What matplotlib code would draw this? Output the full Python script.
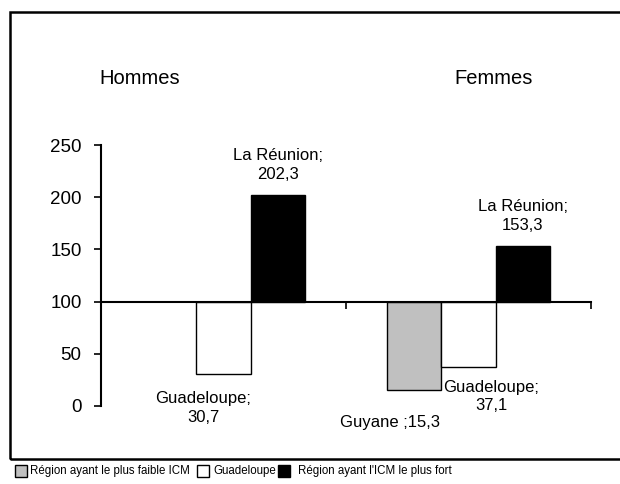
import numpy as np
import matplotlib
matplotlib.use('Agg')
import matplotlib.pyplot as plt
from matplotlib.patches import Rectangle

plt.rcParams['font.family'] = ['Liberation Sans', 'DejaVu Sans']

# données (indice, base 100)
groupes = ['Hommes', 'Femmes']
faible = [np.nan, 15.3]
guadeloupe = [30.7, 37.1]
fort = [202.3, 153.3]
noms_faible = ['', 'Guyane']
noms_fort = ['La Réunion', 'La Réunion']
legende = ['Région ayant le plus faible ICM', 'Guadeloupe', "Région ayant l'ICM le plus fort"]
couleurs = ['#c0c0c0', 'white', 'black']

fig = plt.figure(figsize=(6.2, 4.84), dpi=100)
ax = fig.add_axes([101 / 620, 1 - 406 / 484, 490 / 620, 261 / 484])

# cadre autour du graphique
fig.patches.append(Rectangle((10 / 620, 1 - 459 / 484), 620 / 620, 447 / 484,
                             transform=fig.transFigure, fill=False,
                             edgecolor='black', linewidth=1.8))

x = np.arange(len(groupes))
w = 0.222
base = 100
series = [faible, guadeloupe, fort]
for k, (vals, c) in enumerate(zip(series, couleurs)):
    ax.bar(x + (k - 1) * w, [v - base for v in vals], w, bottom=base,
           color=c, edgecolor='black', linewidth=1, zorder=2)

fmt = lambda v: f'{v:.1f}'.replace('.', ',')
fs = 12

# étiquettes (décalages en pixels)
for i in range(len(groupes)):
    ax.annotate(f'{noms_fort[i]};\n{fmt(fort[i])}', (x[i] + w, fort[i]),
                xytext=(0, 30), textcoords='offset pixels', ha='center', va='center',
                fontsize=fs, linespacing=1.35)
ax.annotate(f'Guadeloupe;\n{fmt(guadeloupe[0])}', (x[0], guadeloupe[0]),
            xytext=(-20, -34), textcoords='offset pixels', ha='center', va='center',
            fontsize=fs, linespacing=1.35)
ax.annotate(f'Guadeloupe;\n{fmt(guadeloupe[1])}', (x[1], guadeloupe[1]),
            xytext=(23, -29), textcoords='offset pixels', ha='center', va='center',
            fontsize=fs, linespacing=1.25)
ax.annotate(f'{noms_faible[1]} ;{fmt(faible[1])}', (x[1] - w, faible[1]),
            xytext=(-24, -32), textcoords='offset pixels', ha='center', va='center',
            fontsize=fs)

ax.set_xlim(-0.5, 1.5)
ax.set_ylim(0, 250)
ax.set_yticks(np.arange(0, 251, 50))
ax.tick_params(axis='y', direction='out', length=5, width=1.2, labelsize=13.5, pad=9)
ax.set_xticks([])
ax.set_xticks([0.5, 1.5], minor=True)
ax.tick_params(axis='x', which='minor', direction='out', length=5, width=1.2, labelbottom=False)
ax.spines['bottom'].set_position(('data', 100))
ax.spines['bottom'].set_linewidth(1.5)
ax.spines['left'].set_linewidth(1.5)
ax.spines['top'].set_visible(False)
ax.spines['right'].set_visible(False)
ax.set_facecolor('none')

fig.text(140 / 620, 1 - 79 / 484, groupes[0], ha='center', va='center', fontsize=14.5)
fig.text(494 / 620, 1 - 79 / 484, groupes[1], ha='center', va='center', fontsize=14.5)

# légende sous le cadre
pos_carre = [15, 197, 278]
pos_texte = [30, 213, 298]
for lab, c, xc, xt in zip(legende, couleurs, pos_carre, pos_texte):
    fig.patches.append(Rectangle((xc / 620, 1 - 477 / 484), 12 / 620, 12 / 484,
                                 transform=fig.transFigure, facecolor=c,
                                 edgecolor='black', linewidth=1))
    fig.text(xt / 620, 1 - 471 / 484, lab, ha='left', va='center', fontsize=8.3,
             family=['Liberation Sans Narrow', 'Liberation Sans'])

fig.savefig('out.png', dpi=100)
